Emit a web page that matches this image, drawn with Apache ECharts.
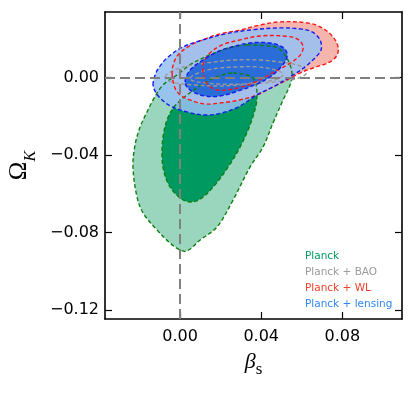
<!DOCTYPE html>
<html><head><meta charset="utf-8">
<script src="https://cdn.jsdelivr.net/npm/echarts@6/dist/echarts.min.js"></script>
<style>html,body{margin:0;padding:0;background:#fff}#c{width:415px;height:394px}</style>
</head><body><div id="c"></div>
<script>
// ---- data ----
const xTicks = [0, 0.04, 0.08];
const yTicks = [0, -0.04, -0.08, -0.12];
const legendLabels = ['Planck', 'Planck + BAO', 'Planck + WL', 'Planck + lensing'];

// Planck alone
const planck2 = [[0.0330,0.0169],[0.0429,0.0164],[0.0483,0.0153],[0.0517,0.0117],[0.0542,0.0066],[0.0552,0.0014],[0.0542,-0.0038],[0.0508,-0.0115],[0.0458,-0.0234],[0.0409,-0.0358],[0.0345,-0.0461],[0.0261,-0.0632],[0.0182,-0.0771],[0.0099,-0.0838],[0.0034,-0.0895],[0,-0.0890],[-0.0049,-0.0854],[-0.0113,-0.0787],[-0.0182,-0.0699],[-0.0212,-0.0616],[-0.0232,-0.0461],[-0.0222,-0.0348],[-0.0197,-0.0255],[-0.0163,-0.0177],[-0.0133,-0.0115],[-0.0084,-0.0038],[-0.0015,0.0014],[0.0049,0.0066],[0.0123,0.0107],[0.0197,0.0138],[0.0261,0.0159]];
const planck1 = [[0.0261,0.0024],[0.0330,0.0014],[0.0360,-0.0002],[0.0375,-0.0038],[0.0379,-0.0089],[0.0375,-0.0141],[0.0345,-0.0244],[0.0296,-0.0358],[0.0237,-0.0461],[0.0163,-0.0565],[0.0099,-0.0627],[0.0049,-0.0642],[0,-0.0621],[-0.0049,-0.0565],[-0.0079,-0.0488],[-0.0089,-0.0410],[-0.0084,-0.0306],[-0.0064,-0.0218],[-0.0034,-0.0157],[0.0015,-0.0105],[0.0084,-0.0053],[0.0148,-0.0012],[0.0207,0.0014]];
// Planck + BAO
const bao2 = [[-0.0074,0.0004],[-0.0049,0.0029],[0.0015,0.0055],[0.0099,0.0071],[0.0261,0.0091],[0.0394,0.0091],[0.0493,0.0081],[0.0577,0.0066],[0.0616,0.0045],[0.0621,0.0019],[0.0567,-0.0007],[0.0468,-0.0022],[0.0345,-0.0033],[0.0197,-0.0043],[0.0074,-0.0038],[-0.0025,-0.0027],[-0.0064,-0.0012]];
const bao1 = [[0.0049,-0.0002],[0.0089,0.0024],[0.0158,0.0045],[0.0271,0.0055],[0.0384,0.0055],[0.0468,0.0040],[0.0508,0.0019],[0.0483,-0.0007],[0.0394,-0.0022],[0.0296,-0.0033],[0.0197,-0.0033],[0.0123,-0.0027],[0.0064,-0.0017]];
// Planck + WL
const wl2 = [[-0.0039,0.0014],[-0.0034,0.0066],[-0.0010,0.0117],[0.0039,0.0159],[0.0099,0.0190],[0.0197,0.0226],[0.0296,0.0246],[0.0394,0.0272],[0.0493,0.0288],[0.0626,0.0283],[0.0700,0.0257],[0.0754,0.0210],[0.0779,0.0159],[0.0774,0.0117],[0.0739,0.0081],[0.0655,0.0050],[0.0591,0.0024],[0.0527,-0.0012],[0.0458,-0.0048],[0.0379,-0.0089],[0.0296,-0.0115],[0.0197,-0.0131],[0.0123,-0.0136],[0.0049,-0.0115],[0,-0.0089],[-0.0025,-0.0053]];
const wl1 = [[0.0113,0.0029],[0.0118,0.0081],[0.0148,0.0128],[0.0207,0.0169],[0.0296,0.0195],[0.0394,0.0215],[0.0508,0.0215],[0.0577,0.0200],[0.0606,0.0164],[0.0596,0.0122],[0.0552,0.0081],[0.0483,0.0040],[0.0409,-0.0002],[0.0335,-0.0038],[0.0261,-0.0058],[0.0187,-0.0064],[0.0138,-0.0038]];
// Planck + lensing
const lens2 = [[-0.0133,-0.0038],[-0.0123,0.0014],[-0.0099,0.0060],[-0.0059,0.0107],[0.0015,0.0159],[0.0113,0.0195],[0.0222,0.0226],[0.0345,0.0246],[0.0493,0.0257],[0.0591,0.0252],[0.0651,0.0236],[0.0690,0.0195],[0.0695,0.0143],[0.0665,0.0102],[0.0616,0.0055],[0.0557,0.0014],[0.0468,-0.0043],[0.0379,-0.0089],[0.0296,-0.0146],[0.0207,-0.0182],[0.0123,-0.0193],[0.0034,-0.0177],[-0.0039,-0.0151],[-0.0089,-0.0115],[-0.0118,-0.0079]];
const lens1 = [[0.0025,-0.0022],[0.0034,0.0014],[0.0059,0.0050],[0.0113,0.0091],[0.0172,0.0128],[0.0237,0.0153],[0.0345,0.0179],[0.0444,0.0179],[0.0503,0.0159],[0.0527,0.0128],[0.0522,0.0091],[0.0493,0.0050],[0.0444,0.0004],[0.0379,-0.0033],[0.0286,-0.0069],[0.0197,-0.0095],[0.0123,-0.0095],[0.0064,-0.0074],[0.0034,-0.0048]];

// ---- styles ----
const GREEN_LINE = '#0f800f', RED_LINE = '#ff1414', BLUE_LINE = '#1818f0', GRAY_LINE = '#9a9a9a';
const fillLayers = [
  {pts: planck2, fill: '#9ad6be'},
  {pts: planck1, fill: '#009960'},
  {pts: wl2, fill: '#f5b4ac'},
  {pts: lens2, fill: 'rgba(150,192,244,0.86)'},
  {pts: lens1, fill: 'rgba(32,102,214,0.93)'}
];
const lineLayers = [
  {pts: planck2, color: GREEN_LINE},
  {pts: planck1, color: GREEN_LINE},
  {pts: bao2, color: GRAY_LINE},
  {pts: bao1, color: GRAY_LINE},
  {pts: wl2, color: RED_LINE},
  {pts: wl1, color: RED_LINE},
  {pts: lens2, color: BLUE_LINE},
  {pts: lens1, color: BLUE_LINE}
];
const legendColors = ['#009960', '#9a9a9a', '#f0402c', '#2f86f0'];

const fmt = v => Math.abs(v) < 1e-9 ? '0.00' : v.toFixed(2).replace('-', '\u2212');
const X_MIN = -0.037, X_MAX = 0.1094, Y_MIN = -0.1246, Y_MAX = 0.0339;
const axisLineStyle = {show: true, onZero: false, lineStyle: {color: '#000', width: 1.6}};
const tickStyle = vals => ({show: true, inside: true, length: 7, customValues: vals, lineStyle: {color: '#000', width: 1.2}});
const labelStyle = (vals, margin) => ({show: true, customValues: vals, formatter: fmt, fontSize: 16, color: '#000', fontFamily: 'DejaVu Sans', margin: margin});

const chart = echarts.init(document.getElementById('c'), null, {renderer: 'canvas'});
chart.setOption({
  animation: false,
  backgroundColor: '#fff',
  grid: {left: 105, right: 13, top: 12, bottom: 75, containLabel: false, outerBoundsMode: 'none'},
  xAxis: [
    {type: 'value', min: X_MIN, max: X_MAX, position: 'bottom',
     axisLine: axisLineStyle, axisTick: tickStyle(xTicks), axisLabel: labelStyle(xTicks, 10), splitLine: {show: false},
     name: '{b|\u03b2}{s|s}', nameLocation: 'middle', nameGap: 32,
     nameTextStyle: {rich: {
       b: {fontFamily: 'Liberation Serif', fontStyle: 'italic', fontSize: 22, color: '#000', verticalAlign: 'top', lineHeight: 22},
       s: {fontFamily: 'Liberation Serif', fontSize: 17, color: '#000', verticalAlign: 'bottom', lineHeight: 27}
     }}},
    {type: 'value', min: X_MIN, max: X_MAX, position: 'top',
     axisLine: axisLineStyle, axisTick: tickStyle(xTicks), axisLabel: {show: false}, splitLine: {show: false}}
  ],
  yAxis: [
    {type: 'value', min: Y_MIN, max: Y_MAX, position: 'left',
     axisLine: axisLineStyle, axisTick: tickStyle(yTicks), axisLabel: labelStyle(yTicks, 6), splitLine: {show: false},
     name: '{o|\u03a9}{k|K}', nameLocation: 'middle', nameGap: 63, nameRotate: 90,
     nameTextStyle: {rich: {
       o: {fontFamily: 'Liberation Serif', fontSize: 25, color: '#000', verticalAlign: 'top', lineHeight: 25},
       k: {fontFamily: 'Liberation Serif', fontStyle: 'italic', fontSize: 16, color: '#000', verticalAlign: 'bottom', lineHeight: 32}
     }}},
    {type: 'value', min: Y_MIN, max: Y_MAX, position: 'right',
     axisLine: axisLineStyle, axisTick: tickStyle(yTicks), axisLabel: {show: false}, splitLine: {show: false}}
  ],
  series: [
    {type: 'line', data: [], z: 1, silent: true,
     markLine: {silent: true, symbol: ['none', 'none'], label: {show: false},
       lineStyle: {color: '#808080', width: 2, type: [10, 5]},
       data: [{xAxis: 0}, {yAxis: 0}]}},
    {type: 'custom', z: 2, silent: true, xAxisIndex: 0, yAxisIndex: 0,
     data: fillLayers.map((l, i) => [l.pts[0][0], l.pts[0][1], i]),
     encode: {x: 0, y: 1},
     renderItem: (params, api) => {
       const l = fillLayers[params.dataIndex];
       return {type: 'polygon', shape: {points: l.pts.map(p => api.coord(p)), smooth: 0.35},
               style: {fill: l.fill, stroke: null}};
     }},
    {type: 'custom', z: 3, silent: true, xAxisIndex: 0, yAxisIndex: 0,
     data: lineLayers.map((l, i) => [l.pts[0][0], l.pts[0][1], i]),
     encode: {x: 0, y: 1},
     renderItem: (params, api) => {
       const l = lineLayers[params.dataIndex];
       return {type: 'polygon', shape: {points: l.pts.map(p => api.coord(p)), smooth: 0.35},
               style: {fill: null, stroke: l.color, lineWidth: 1.4, lineDash: [4, 2.5]}};
     }}
  ],
  graphic: legendLabels.map((t, i) => ({
    type: 'text', left: 305, top: 251 + i * 15.8, z: 10,
    style: {text: t, fill: legendColors[i], fontSize: 10.5, fontFamily: 'DejaVu Sans'}
  }))
});
</script></body></html>
